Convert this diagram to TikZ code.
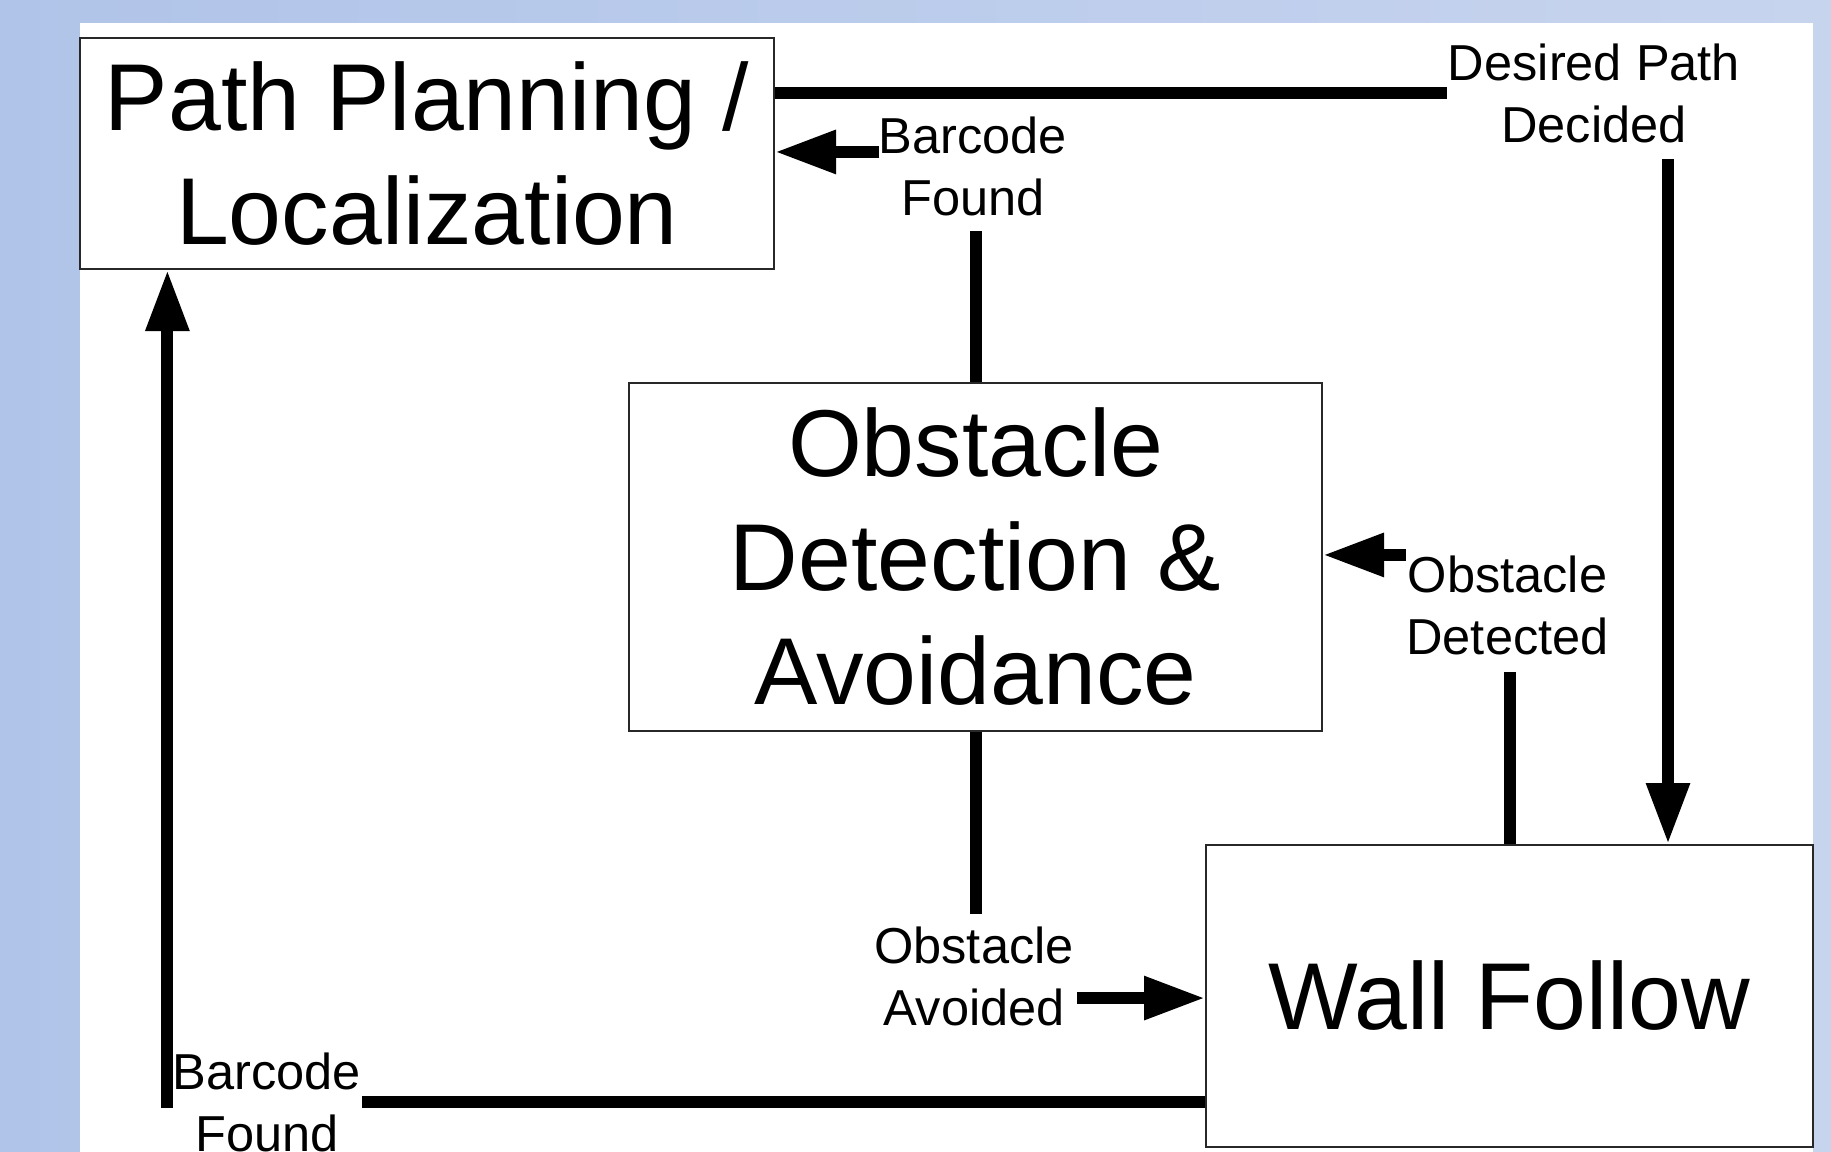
\documentclass[tikz,border=0pt]{standalone}
\usepackage{fontspec}
\setmainfont{Liberation Sans}
\usetikzlibrary{arrows.meta,calc}

\definecolor{bgleft}{RGB}{176,196,233}
\definecolor{bgright}{RGB}{199,212,238}
\definecolor{boxline}{RGB}{40,40,40}

\tikzset{every picture/.style={line width=0.75pt}}
\tikzset{
  statebox/.style={draw=boxline, line width=1.5pt, fill=white, align=center, inner sep=0pt,
    font=\fontsize{71.25pt}{85.5pt}\selectfont},
  eventlabel/.style={align=center, inner sep=0pt, font=\fontsize{37.9pt}{46.5pt}\selectfont},
  wire/.style={line width=9pt},
  flow/.style={wire, -{Triangle[length=45.75pt,width=30.75pt]}},
}

\begin{document}
\begin{tikzpicture}[x=0.75pt,y=0.75pt,yscale=-1,xscale=1]
\useasboundingbox (0,0) rectangle (1831,1152);

%Shape: Background
\fill [left color=bgleft, right color=bgright] (0,0) rectangle (1831,1152);
\fill [white] (80,23) rectangle (1813,1152);

%Shape: Rectangle
\node [statebox, minimum width=520.5pt, minimum height=173.25pt] (pp) at (427,153.5) {Path Planning /\\Localization};
%Shape: Rectangle
\node [statebox, minimum width=519.75pt, minimum height=261pt] (ob) at (975.5,557) {Obstacle\\Detection \&\\Avoidance};
%Shape: Rectangle
\node [statebox, minimum width=455.25pt, minimum height=226.5pt] (wf) at (1509.5,996) {Wall Follow};

% Text Node
\node [eventlabel] (dpd) at (1594,93) {Desired Path\\Decided};
% Text Node
\node [eventlabel] (bft) at (973,166) {Barcode\\Found};
% Text Node
\node [eventlabel] (odt) at (1507.5,605) {Obstacle\\Detected};
% Text Node
\node [eventlabel] (oav) at (974,976) {Obstacle\\Avoided};
% Text Node
\node [eventlabel] (bfb) at (267,1102) {Barcode\\Found};

\coordinate (dpdcol) at (1668,159);
\coordinate (bftw) at ($(bft.north west)+(1,36)$);
\coordinate (oave) at ($(oav.south east)+(3,-28)$);
\coordinate (bfbw) at ($(bfb.west)+(-5,6)$);

%Straight Lines
\draw [wire] (dpd.west -| pp.east) -- (dpd.west);
\draw [flow] (dpdcol) -- (dpdcol |- wf.north);
%Straight Lines
\draw [wire] (ob.north) -- ($(ob.north |- bft.south)+(0,15)$);
\draw [flow] (bftw) -- (bftw -| pp.east);
%Straight Lines
\draw [wire] (wf.north) -- ($(wf.north |- odt.south)+(0,17)$);
\draw [flow] (odt.north west) -- (odt.north west -| ob.east);
%Straight Lines
\draw [wire] (ob.south) -- ($(ob.south |- oav.north)+(0,-12)$);
\draw [flow] (oave) -- (oave -| wf.west);
%Straight Lines
\draw [wire] (bfb.east -| wf.west) -- (bfb.east);
\draw [flow] (bfbw) -- (bfbw |- pp.south);

\end{tikzpicture}
\end{document}
